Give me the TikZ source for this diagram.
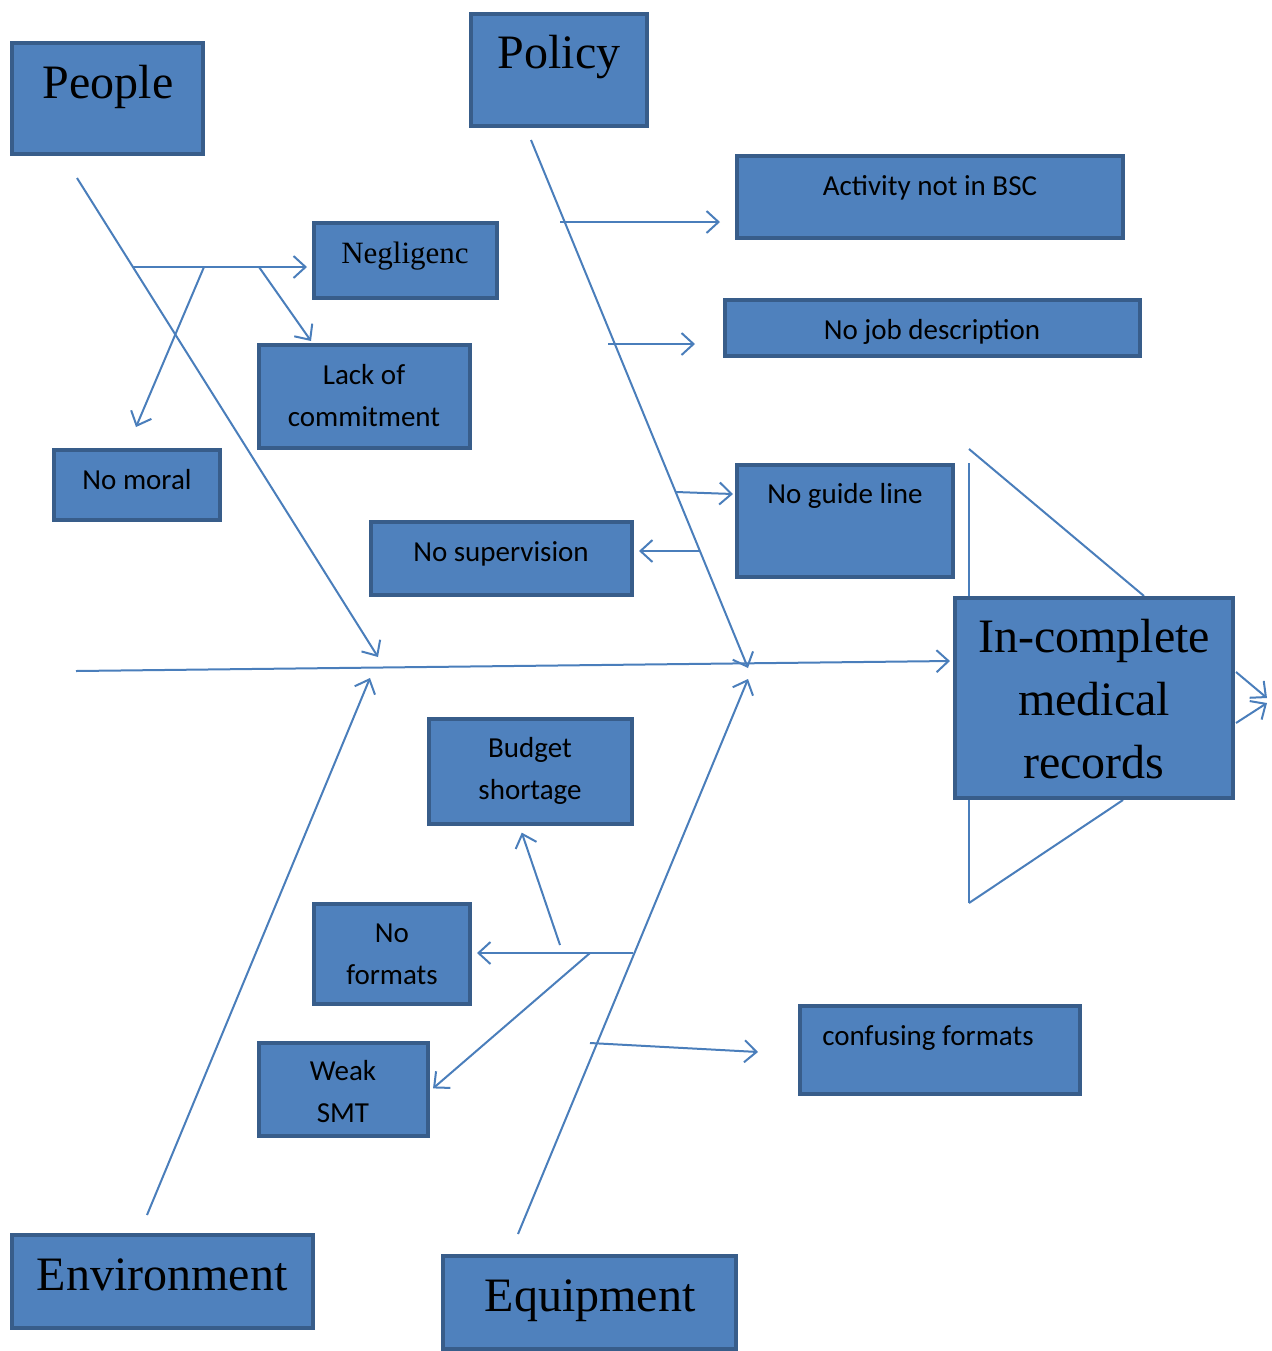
\documentclass[tikz,border=0pt]{standalone}
\usepackage{fontspec}
\setmainfont{Liberation Serif}
\newfontfamily\lblfont{Carlito}
\usetikzlibrary{arrows.meta,calc,backgrounds}
\definecolor{boxfill}{HTML}{4F81BD}
\definecolor{boxline}{HTML}{385D8A}
\definecolor{lncol}{HTML}{4A7EBB}
\begin{document}
\begin{tikzpicture}[x=0.5pt,y=-0.5pt,
  box/.style={draw=boxline,line width=2pt,fill=boxfill,inner sep=0pt},
  ttl/.style={font=\fontsize{24}{31.5}\selectfont,text=black,align=center,inner sep=0pt},
  lbl/.style={font=\lblfont\fontsize{14.5}{21}\selectfont,text=black,align=center,inner sep=0pt},
  bone/.style={draw=lncol,line width=1pt},
  arr/.style={bone,-{Straight Barb[length=6pt,width=11pt]}}]
\useasboundingbox (0,0) rectangle (1272,1351);

% boxes
\node[box,minimum width=95.5pt,minimum height=55.5pt] (people) at (107.5,98.5) {};
\node[ttl,anchor=base] (people-t) at (108,98) {People};
\node[box,minimum width=88pt,minimum height=56pt] (policy) at (559,70) {};
\node[ttl,anchor=base] (policy-t) at (559,68) {Policy};
\node[box,minimum width=193pt,minimum height=41pt] (activity) at (930,197) {};
\node[lbl,anchor=base] (activity-t) at (930,195) {Activity not in BSC};
\node[box,minimum width=207.5pt,minimum height=28pt] (nojob) at (932.5,328) {};
\node[lbl,anchor=base] (nojob-t) at (932,339) {No job description};
\node[box,minimum width=91.5pt,minimum height=37.5pt] (neg) at (405.5,260.5) {};
\node[ttl,font=\fontsize{15.5}{20}\selectfont,anchor=base] (neg-t) at (405,263) {Negligenc};
\node[box,minimum width=105.5pt,minimum height=51.5pt] (lack) at (364.5,396.5) {};
\node[lbl] (lack-t) at (364,396) {Lack of\\commitment};
\node[box,minimum width=83pt,minimum height=35pt] (nomoral) at (137,485) {};
\node[lbl,anchor=base] (nomoral-t) at (137,489) {No moral};
\node[box,minimum width=130.5pt,minimum height=36.5pt] (nosup) at (501.5,558.5) {};
\node[lbl,anchor=base] (nosup-t) at (501,561) {No supervision};
\node[box,minimum width=108pt,minimum height=56pt] (noguide) at (845,521) {};
\node[lbl,anchor=base] (noguide-t) at (845,503) {No guide line};
\node[box,minimum width=139pt,minimum height=100pt] (inc) at (1094,698) {};
\node[ttl,font=\fontsize{24}{31.5}\selectfont] (inc-t) at (1094,699) {In-complete\\medical\\records};
\node[box,minimum width=101.5pt,minimum height=52.5pt] (budget) at (530.5,771.5) {};
\node[lbl] (budget-t) at (530,771) {Budget\\shortage};
\node[box,minimum width=78pt,minimum height=50pt] (noformats) at (392,954) {};
\node[lbl] (noformats-t) at (392,954) {No\\formats};
\node[box,minimum width=84.5pt,minimum height=46.5pt] (weak) at (343.5,1089.5) {};
\node[lbl] (weak-t) at (343,1092) {Weak\\SMT};
\node[box,minimum width=140pt,minimum height=44pt] (confusing) at (940,1050) {};
\node[lbl,anchor=base] (confusing-t) at (928,1045) {confusing formats};
\node[box,minimum width=150.5pt,minimum height=46.5pt] (env) at (162.5,1281.5) {};
\node[ttl,anchor=base] (env-t) at (162,1290) {Environment};
\node[box,minimum width=146.5pt,minimum height=46.5pt] (equip) at (589.5,1302.5) {};
\node[ttl,anchor=base] (equip-t) at (590,1311) {Equipment};

% free ends
\coordinate (spineS) at (76,671);
\coordinate (peopleS) at (77,178);
\coordinate (peopleE) at (378,657);
\coordinate (policyS) at (531,140);
\coordinate (policyE) at (748,668);
\coordinate (envS) at (147,1215);
\coordinate (envE) at (370,678);
\coordinate (equipS) at (518,1234);
\coordinate (equipE) at (748,679);
\coordinate (pb1) at (133,267);
\coordinate (pb2) at (259,267);
\coordinate (pb3) at (204,267);
\coordinate (lackE) at (311,341);
\coordinate (moralE) at (136,427);
\coordinate (q1) at (560,222);
\coordinate (q1E) at (720,222);
\coordinate (q2) at (608,344);
\coordinate (q2E) at (695,344);
\coordinate (q3) at (676,492);
\coordinate (q3E) at (733,494);
\coordinate (q4) at (700,551);
\coordinate (e1) at (633,953);
\coordinate (e2) at (560,945);
\coordinate (e3) at (590,953);
\coordinate (e4) at (590,1043);
\coordinate (e4E) at (758,1052);
\coordinate (tTop) at (969,449);
\coordinate (tTopV) at (969,463);
\coordinate (tBot) at (969,903);
\coordinate (out1) at (1267,698);
\coordinate (out2) at (1267,703);

\begin{scope}[on background layer]
  % spine and bones
  \draw[arr] (spineS) -- ($(inc.west)+(-3,-37)$);
  \draw[arr] (peopleS) -- (peopleE);
  \draw[arr] (policyS) -- (policyE);
  \draw[arr] (envS) -- (envE);
  \draw[arr] (equipS) -- (equipE);
  % people branches
  \draw[arr,shorten >=2.5pt] (pb1) -- (pb1 -| neg.west);
  \draw[arr] (pb2) -- (lackE);
  \draw[arr] (pb3) -- (moralE);
  % policy branches
  \draw[arr] (q1) -- (q1E);
  \draw[arr] (q2) -- (q2E);
  \draw[arr] (q3) -- (q3E);
  \draw[arr,shorten >=2.5pt] (q4) -- (q4 -| nosup.east);
  % equipment branches
  \draw[arr,shorten >=2.5pt] (e1) -- (e1 -| noformats.east);
  \draw[arr,shorten >=3.5pt] (e2) -- ($(budget.south)+(-11,0)$);
  \draw[arr,shorten >=2pt] (e3) -- ($(weak.east)+(0,1.5)$);
  \draw[arr] (e4) -- (e4E);
  % effect wedge
  \draw[bone] (tTopV) -- (tTopV |- inc.center);
  \draw[bone] (tTop) -- ($(inc.north)+(50,0)$);
  \draw[bone] (tBot) -- (tBot |- inc.center);
  \draw[bone] (tBot) -- ($(inc.south)+(29,0)$);
  \draw[arr] ($(inc.east)+(1,-26)$) -- (out1);
  \draw[arr] ($(inc.east)+(1,25)$) -- (out2);
\end{scope}
\end{tikzpicture}
\end{document}
